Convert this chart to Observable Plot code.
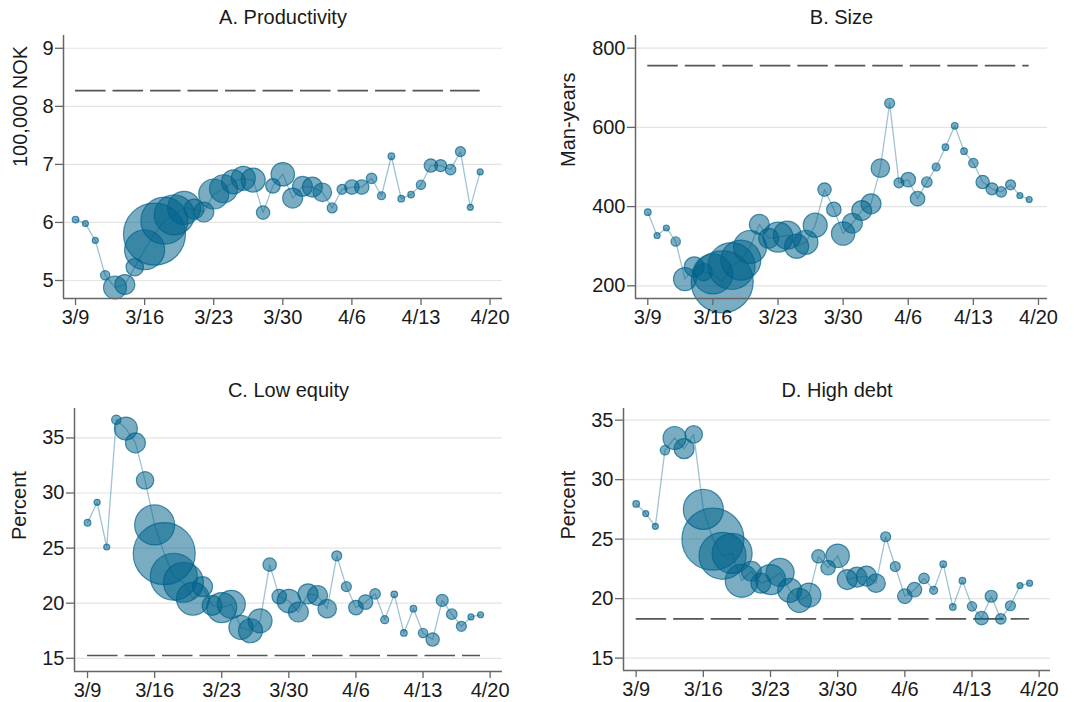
<!DOCTYPE html>
<html>
<head>
<meta charset="utf-8">
<script src="https://cdn.jsdelivr.net/npm/d3@7"></script>
<script src="https://cdn.jsdelivr.net/npm/@observablehq/plot@0.6"></script>
<style>
  html, body { margin: 0; padding: 0; background: #fff; }
  #wrap { position: relative; width: 1074px; height: 702px; overflow: hidden; }
  #wrap svg { position: absolute; }
</style>
</head>
<body>
<div id="wrap"></div>
<script>
// ---- data ----
const dates = ["3/9","3/10","3/11","3/12","3/13","3/14","3/15","3/16","3/17","3/18","3/19","3/20","3/21","3/22",
  "3/23","3/24","3/25","3/26","3/27","3/28","3/29","3/30","3/31","4/1","4/2","4/3","4/4","4/5",
  "4/6","4/7","4/8","4/9","4/10","4/11","4/12","4/13","4/14","4/15","4/16","4/17","4/18","4/19"];

// relative bubble weight per day (number of layoffs, relative units)
const weights = [11, 9, 9, 22, 132, 100, 76, 400, 961, 552, 400, 272, 100, 100,
  225, 196, 144, 144, 144, 45, 53, 137, 100, 100, 100, 86, 25, 25,
  53, 53, 28, 16, 11, 11, 11, 22, 45, 36, 28, 25, 9, 9];

const productivity = [6.05, 5.98, 5.69, 5.09, 4.88, 4.93, 5.23, 5.53, 5.80, 6.03, 6.13, 6.25, 6.23, 6.18,
  6.49, 6.58, 6.70, 6.76, 6.73, 6.17, 6.63, 6.83, 6.42, 6.62, 6.61, 6.52, 6.25, 6.57,
  6.61, 6.61, 6.76, 6.46, 7.14, 6.41, 6.48, 6.65, 6.98, 6.98, 6.91, 7.22, 6.26, 6.87];
const productivityRef = 8.27;

const size = [386, 327, 346, 312, 217, 248, 235, 230, 210, 250, 265, 298, 355, 320,
  323, 328, 300, 310, 353, 443, 393, 332, 358, 390, 407, 497, 661, 460,
  468, 420, 462, 500, 550, 604, 540, 510, 462, 445, 437, 455, 428, 418];
const sizeRef = 756;

const lowEquity = [27.3, 29.15, 25.1, 36.65, 35.85, 34.55, 31.15, 27.1, 24.5, 22.4, 21.9, 20.4, 21.5, 19.8,
  19.6, 19.9, 17.8, 17.5, 18.4, 23.5, 20.6, 20.2, 19.2, 20.85, 20.7, 19.5, 24.3, 21.5,
  19.6, 20.1, 20.85, 18.5, 20.8, 17.3, 19.5, 17.3, 16.7, 20.25, 19.0, 17.9, 18.75, 18.95];
const lowEquityRef = 15.25;

const highDebt = [27.96, 27.15, 26.08, 32.48, 33.5, 32.6, 33.8, 27.5, 25.0, 23.6, 23.8, 21.5, 22.3, 21.3,
  21.6, 22.2, 20.7, 19.85, 20.3, 23.55, 22.6, 23.6, 21.6, 21.8, 21.9, 21.3, 25.2, 22.7,
  20.2, 20.75, 21.7, 20.7, 22.9, 19.3, 21.5, 19.35, 18.36, 20.2, 18.3, 19.4, 21.1, 21.3];
const highDebtRef = 18.3;

const xTickLabels = ["3/9", "3/16", "3/23", "3/30", "4/6", "4/13", "4/20"];

// ---- helpers ----
const parse = s => { const [m, d] = s.split("/").map(Number); return new Date(Date.UTC(2020, m - 1, d)); };
const DAY = 864e5;
const dateVals = dates.map(parse);
const xTicks = xTickLabels.map(parse);
const fmt = d => `${d.getUTCMonth() + 1}/${d.getUTCDate()}`;
const COLOR = "#00628b";
const FONT = "'Liberation Sans', Arial, Helvetica, sans-serif";

function panel(o) {
  const data = dateVals.map((d, i) => ({date: d, v: o.values[i], w: weights[i]}));
  const x0 = new Date(+xTicks[0] - o.padL * DAY), x1 = new Date(+xTicks[xTicks.length - 1] + o.padR * DAY);
  const svg = Plot.plot({
    width: o.width, height: o.height,
    marginLeft: o.ml, marginRight: o.mr, marginTop: o.mt, marginBottom: o.mb,
    style: {fontFamily: FONT, fontSize: "20px", color: "#1a1a1a", background: "transparent", overflow: "visible"},
    x: {type: "utc", domain: [x0, x1]},
    y: {domain: o.yDomain},
    r: {type: "sqrt", domain: [0, 961], range: [0, 31]},
    marks: [
      Plot.gridY(o.yTicks, {stroke: "#e4e4e4", strokeOpacity: 1, strokeWidth: 1.2}),
      Plot.ruleY([o.ref], {x1: dateVals[0], x2: dateVals[dateVals.length - 1], stroke: "#555", strokeWidth: 1.6, strokeDasharray: "30.5,7"}),
      Plot.line(data, {x: "date", y: "v", stroke: COLOR, strokeOpacity: 0.38, strokeWidth: 1.3}),
      Plot.dot(data, {x: "date", y: "v", r: "w", fill: COLOR, fillOpacity: 0.52, stroke: COLOR, strokeOpacity: 0.7, strokeWidth: 1.2, sort: null}),
      Plot.ruleY([o.yDomain[0]], {stroke: "#666", strokeWidth: 1.5}),
      Plot.ruleX([x0], {stroke: "#666", strokeWidth: 1.5}),
      Plot.axisX(xTicks, {tickFormat: fmt, tickSize: 7, tickPadding: 4, fontSize: 20, stroke: "#666", strokeWidth: 1.3, label: null}),
      Plot.axisY(o.yTicks, {tickFormat: d => String(d), tickSize: 8, tickPadding: 2, fontSize: 20, stroke: "#666", strokeWidth: 1.3, label: null}),
      Plot.text([o.title], {frameAnchor: "top", dy: -18, fontSize: 20, lineAnchor: "middle"}),
      Plot.text([o.ylabel], {frameAnchor: "left", dx: o.labelDx, rotate: -90, fontSize: 20, lineAnchor: "middle"})
    ]
  });
  svg.style.left = o.left + "px";
  svg.style.top = o.top + "px";
  document.getElementById("wrap").appendChild(svg);
}

panel({title: "A. Productivity", ylabel: "100,000 NOK", values: productivity, ref: productivityRef,
  yDomain: [4.69, 9.22], yTicks: [5, 6, 7, 8, 9],
  left: 0, top: 0, width: 537, height: 340, ml: 63, mr: 35, mt: 35, mb: 42, padL: 1.22, padR: 1.26, labelDx: -43});

panel({title: "B. Size", ylabel: "Man-years", values: size, ref: sizeRef,
  yDomain: [168, 832], yTicks: [200, 400, 600, 800],
  left: 537, top: 0, width: 537, height: 340, ml: 98, mr: 27, mt: 35, mb: 42, padL: 1.32, padR: 0.97, labelDx: -67});

panel({title: "C. Low equity", ylabel: "Percent", values: lowEquity, ref: lowEquityRef,
  yDomain: [13.8, 37.67], yTicks: [15, 20, 25, 30, 35],
  left: 0, top: 360, width: 537, height: 342, ml: 74, mr: 35, mt: 48, mb: 31, padL: 1.36, padR: 1.29, labelDx: -55});

panel({title: "D. High debt", ylabel: "Percent", values: highDebt, ref: highDebtRef,
  yDomain: [13.96, 35.98], yTicks: [15, 20, 25, 30, 35],
  left: 537, top: 360, width: 537, height: 342, ml: 86, mr: 24, mt: 48, mb: 32, padL: 1.32, padR: 1.18, labelDx: -55});
</script>
</body>
</html>
